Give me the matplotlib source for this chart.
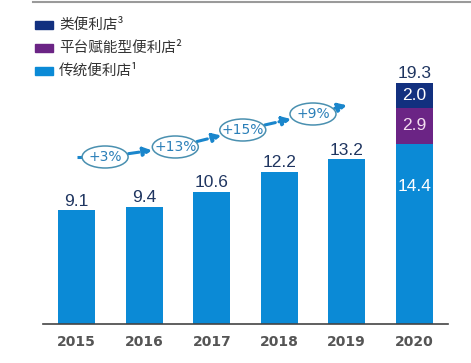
import math
import matplotlib
matplotlib.use('Agg')
import matplotlib.pyplot as plt
from matplotlib.patches import Rectangle, Ellipse
from matplotlib.lines import Line2D

plt.rcParams['font.family'] = ['Noto Sans CJK SC', 'DejaVu Sans']

years = ['2015', '2016', '2017', '2018', '2019', '2020']
traditional = [9.1, 9.4, 10.6, 12.2, 13.2, 14.4]
platform = [0, 0, 0, 0, 0, 2.9]
quasi = [0, 0, 0, 0, 0, 2.0]
totals = [9.1, 9.4, 10.6, 12.2, 13.2, 19.3]
growth = ['+3%', '+13%', '+15%', '+9%']
legend_labels = ['类便利店³', '平台赋能型便利店²', '传统便利店¹']

c_trad = '#0b8ad6'
c_plat = '#6b2485'
c_quasi = '#12307f'
c_text = '#1f3560'

W, H = 471, 363
fig = plt.figure(figsize=(W / 100, H / 100), dpi=100)
ax = fig.add_axes([43 / W, 39 / H, 405 / W, 324 / H])

x = list(range(len(years)))
w = 0.55
ax.bar(x, traditional, width=w, color=c_trad, zorder=2)
ax.bar(x, platform, width=w, bottom=traditional, color=c_plat, zorder=2)
bottom2 = [a + b for a, b in zip(traditional, platform)]
ax.bar(x, quasi, width=w, bottom=bottom2, color=c_quasi, zorder=2)

ax.set_xlim(-0.5, 5.5)
ax.set_ylim(0, 25.92)
for s in ['top', 'right', 'left']:
    ax.spines[s].set_visible(False)
ax.spines['bottom'].set_color('#444444')
ax.spines['bottom'].set_linewidth(1.2)
ax.set_yticks([])
ax.set_xticks(x)
ax.set_xticklabels(years, fontsize=10, fontweight='bold', color='#555555',
                   family=['DejaVu Sans'])
ax.tick_params(axis='x', length=0, pad=8)

for xi, t in zip(x, totals):
    ax.annotate(f'{t:.1f}', (xi, t), xytext=(0, 1), textcoords='offset points',
                ha='center', va='bottom', fontsize=12.5, color=c_text,
                family=['Liberation Sans'])

# values inside the 2020 bar
ax.text(5, traditional[5] - 3.4, f'{traditional[5]:.1f}', ha='center', va='center',
        fontsize=12.5, color='white', family=['Liberation Sans'], zorder=3)
ax.text(5, traditional[5] + platform[5] / 2, f'{platform[5]:.1f}', ha='center',
        va='center', fontsize=12.5, color='#f3dcef', family=['Liberation Sans'], zorder=3)
ax.text(5, bottom2[5] + quasi[5] / 2, f'{quasi[5]:.1f}', ha='center', va='center',
        fontsize=12.5, color='white', family=['Liberation Sans'], zorder=3)

# growth arrows
pts_x = [0.0, 0.42, 1.46, 2.46, 3.50, 4.0]
pts_y = [13.36, 13.36, 14.16, 15.52, 16.8, 17.5]
arrow_c = '#1a86cc'
px_x, px_y = 405 / 6, 324 / 25.92     # pixels per data unit
ea, eb = 23.0, 11.0                   # ellipse semi-axes in pixels


def edge_pt(dx, dy):
    # distance (points) from ellipse centre to its edge along (dx, dy)
    ang = math.atan2(dy * px_y, dx * px_x)
    r = 1 / math.sqrt((math.cos(ang) / ea) ** 2 + (math.sin(ang) / eb) ** 2)
    return r * 0.72 + 1


dash = (0, (3.5, 1.2))
ax.add_line(Line2D([pts_x[0], pts_x[1] - 0.3], pts_y[:2], color=arrow_c, lw=2.2,
                   ls=dash, zorder=3))
for i in range(1, len(pts_x) - 1):
    dx, dy = pts_x[i + 1] - pts_x[i], pts_y[i + 1] - pts_y[i]
    last = i == len(pts_x) - 2
    ax.annotate('', xy=(pts_x[i + 1], pts_y[i + 1]), xytext=(pts_x[i], pts_y[i]),
                arrowprops=dict(arrowstyle='-|>,head_length=0.5,head_width=0.26',
                                color=arrow_c, lw=2.2, ls=dash,
                                shrinkA=edge_pt(dx, dy),
                                shrinkB=0 if last else edge_pt(dx, dy)),
                zorder=3)
for gx, gy, g in zip(pts_x[1:5], pts_y[1:5], growth):
    ax.add_patch(Ellipse((gx, gy), 2 * ea / px_x, 2 * eb / px_y, fc='white',
                         ec='#4a90b0', lw=1.1, zorder=4))
    ax.text(gx, gy, g, ha='center', va='center', fontsize=10, color='#2a7fb8',
            family=['DejaVu Sans'], zorder=5)

# top rule
fig.add_artist(Line2D([33 / W, 1], [1 - 2 / H, 1 - 2 / H], color='#9a9a9a', lw=1.5))

# legend
leg_colors = [c_quasi, c_plat, c_trad]
leg_y = [25, 48, 71]
for col, yy, lab in zip(leg_colors, leg_y, legend_labels):
    fig.add_artist(Rectangle((35 / W, 1 - (yy + 4) / H), 18 / W, 8 / H,
                             color=col, transform=fig.transFigure))
    fig.text(59 / W, 1 - yy / H, lab, ha='left', va='center', fontsize=10.5,
             color='#333333')

fig.savefig('out.png', dpi=100)
